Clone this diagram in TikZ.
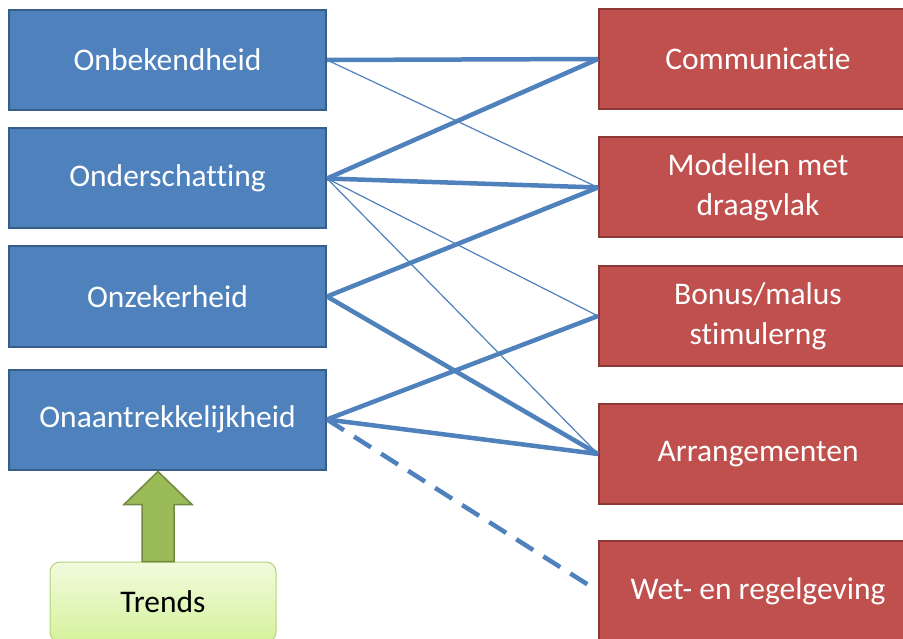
\documentclass[tikz,border=0pt]{standalone}
\usepackage{fontspec}
\setmainfont{Carlito}[Ligatures=NoCommon]
\usepackage{tikz}
\usetikzlibrary{positioning}

\definecolor{probfill}{HTML}{4F81BD}
\definecolor{probline}{HTML}{385D8A}
\definecolor{solfill}{HTML}{C0504D}
\definecolor{solline}{HTML}{8C3836}
\definecolor{trendtop}{HTML}{F1FBDD}
\definecolor{trendbot}{HTML}{D5F29C}
\definecolor{trendline}{HTML}{B3D47A}
\definecolor{arrowfill}{HTML}{9BBB59}
\definecolor{arrowline}{HTML}{71893F}

\tikzset{
    problem/.style={draw=probline, fill=probfill, line width=2pt, text=white,
        minimum width=317, minimum height=100, inner sep=0pt, align=center,
        font=\fontsize{31.5}{40}\selectfont},
    solution/.style={draw=solline, fill=solfill, line width=2pt, text=white,
        minimum width=318, minimum height=100, inner sep=0pt, align=center,
        font=\fontsize{31.5}{40}\selectfont},
    strong/.style={probfill, line width=4.5pt},
    weak/.style={probfill, line width=1.2pt}
}

\begin{document}
\begin{tikzpicture}[x=1pt, y=-1pt]
    \clip (0, 0) rectangle (903, 639);
    \fill[white] (0, 0) rectangle (903, 639);

    % links: problemen
    \node[problem] (onbekend) at (167.5, 60) {Onbekendheid};
    \node[problem] (onderschat) at (167.5, 178.5) {Onderschatting};
    \node[problem] (onzeker) at (167.5, 296.5) {Onzekerheid};
    \node[problem] (onaantrek) at (167.5, 419.5) {Onaantrekkelijkheid};

    % rechts: oplossingen
    \node[solution] (comm) at (758, 59) {Communicatie};
    \node[solution] (modellen) at (758, 187.5) {Modellen met\\draagvlak};
    \node[solution] (bonus) at (758, 316) {Bonus/malus\\stimulerng};
    \node[solution] (arrang) at (758, 454) {Arrangementen};
    \node[solution] (wet) at (758, 591) {Wet- en regelgeving};

    \node[draw=trendline, line width=1pt, rounded corners=10pt,
        top color=trendtop, bottom color=trendbot,
        minimum width=226, minimum height=80,
        font=\fontsize{31.5}{40}\selectfont] (trends) at (163, 602) {Trends};

    % verbanden
    \draw[strong] (onbekend.east) -- (comm.west);
    \draw[weak] (onbekend.east) -- (modellen.west);
    \draw[strong] (onderschat.east) -- (comm.west);
    \draw[strong] (onderschat.east) -- (modellen.west);
    \draw[weak] (onderschat.east) -- (bonus.west);
    \draw[weak] (onderschat.east) -- (arrang.west);
    \draw[strong] (onzeker.east) -- (modellen.west);
    \draw[strong] (onzeker.east) -- (arrang.west);
    \draw[strong] (onaantrek.east) -- (bonus.west);
    \draw[strong] (onaantrek.east) -- (arrang.west);
    \draw[strong, dash pattern=on 20pt off 12pt, shorten >=10pt]
        (onaantrek.east) -- (wet.west);

    % pijl van trends
    \filldraw[draw=arrowline, fill=arrowfill, line width=1.5pt, line join=miter]
        (trends.north) ++(-21, 0) -- ++(0, -57) -- ++(-18, 0) -- ++(34, -33)
        -- ++(34, 33) -- ++(-18, 0) -- ++(0, 57) -- cycle;
\end{tikzpicture}
\end{document}
